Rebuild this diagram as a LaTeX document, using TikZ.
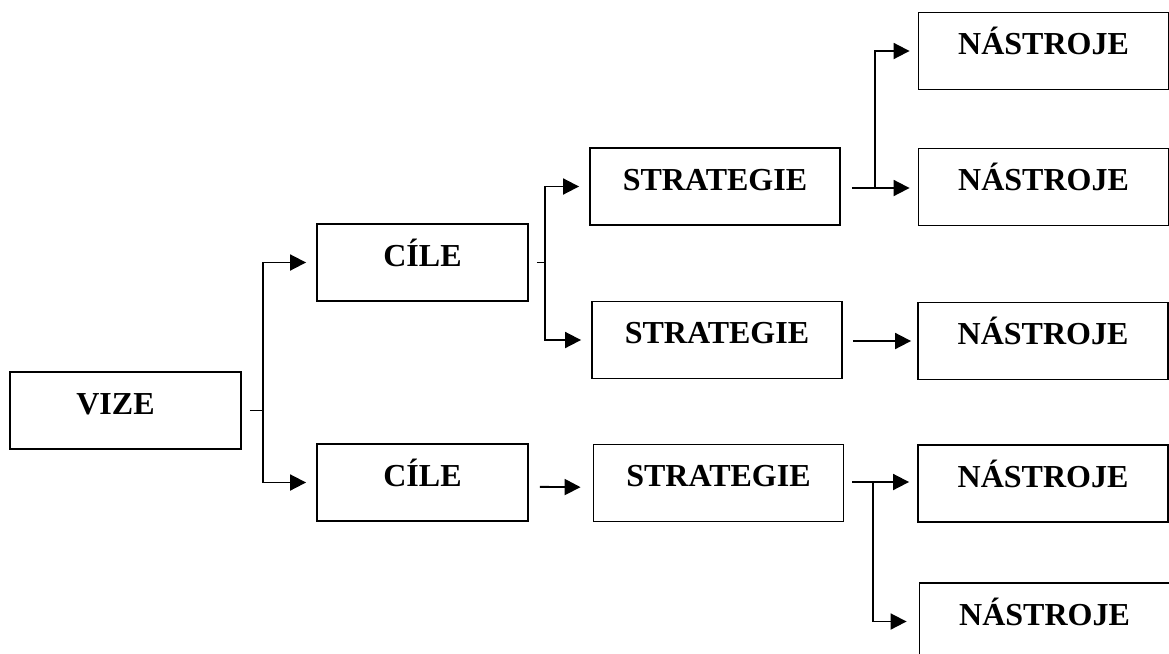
\documentclass[tikz,border=0pt]{standalone}
\usepackage{fontspec}
\setmainfont{Liberation Serif}
\usetikzlibrary{arrows.meta}
\begin{document}
\begin{tikzpicture}[x=0.75pt,y=-0.75pt,
  tbox/.style={draw, line width=1.4pt, minimum height=57.75pt, inner sep=0pt,
    font=\fontsize{24pt}{28pt}\selectfont\bfseries,
    text height=15.9pt, text depth=10.5pt},
  wv/.style={minimum width=173.25pt},
  wc/.style={minimum width=158.25pt},
  ws/.style={minimum width=187.5pt},
  conn/.style={line width=1.4pt},
  arr/.style={line width=1.4pt, -{Triangle[length=12pt,width=12pt]}}]
\clip (0,0) rectangle (1169,653);
\useasboundingbox (0,0) rectangle (1169,653);

\node[tbox, wv] (vize) at (125.5,410.5) {VIZE\kern15pt};
\node[tbox, wc] (cile1) at (422.5,262.5) {CÍLE};
\node[tbox, wc] (cile2) at (422.5,482.5) {CÍLE};
\node[tbox, ws] (strat1) at (715,186.5) {STRATEGIE};
\node[tbox, ws] (strat2) at (717,340) {STRATEGIE};
\node[tbox, ws] (strat3) at (718.5,483) {STRATEGIE};
\node[tbox, ws] (nas1) at (1043.5,51) {NÁSTROJE};
\node[tbox, ws] (nas2) at (1043.5,187) {NÁSTROJE};
\node[tbox, ws] (nas3) at (1043,341) {NÁSTROJE};
\node[tbox, ws] (nas4) at (1043,483.5) {NÁSTROJE};
\node[tbox, ws] (nas5) at (1044.5,621.5) {NÁSTROJE};

\coordinate (j1) at (263,410.5);
\coordinate (j2) at (545,262.5);
\coordinate (j4) at (875,188);
\coordinate (j6) at (873,482);

% VIZE -> CILE
\draw[conn, shorten <=6pt] (vize.east) -- (j1);
\draw[arr, shorten >=7.5pt] (j1) |- (cile1.west);
\draw[arr, shorten >=7.5pt] (j1) |- (cile2.west);

% CILE1 -> STRATEGIE 1,2
\draw[conn, shorten <=6pt] (cile1.east) -- (j2);
\draw[arr, shorten >=7.5pt] (j2) |- (strat1.west);
\draw[arr, shorten >=7.5pt] (j2) |- (strat2.west);

% CILE2 -> STRATEGIE3
\draw[arr, shorten <=8.25pt, shorten >=9pt] ([yshift=-3.2pt]cile2.east) -- ([yshift=-3.2pt]strat3.west);

% STRATEGIE1 -> NASTROJE 1,2
\draw[arr, shorten <=8.25pt, shorten >=6pt] (strat1.east |- j4) -- (nas2.west |- j4);
\draw[arr, shorten >=6pt] (j4) |- (nas1.west);

% STRATEGIE2 -> NASTROJE3
\draw[arr, shorten <=7.5pt, shorten >=4.5pt] (strat2.east |- nas3.west) -- (nas3.west);

% STRATEGIE3 -> NASTROJE 4,5
\draw[arr, shorten <=6pt, shorten >=6pt] (strat3.east |- j6) -- (nas4.west |- j6);
\draw[arr, shorten >=9pt] (j6) |- (nas5.west);
\end{tikzpicture}
\end{document}
